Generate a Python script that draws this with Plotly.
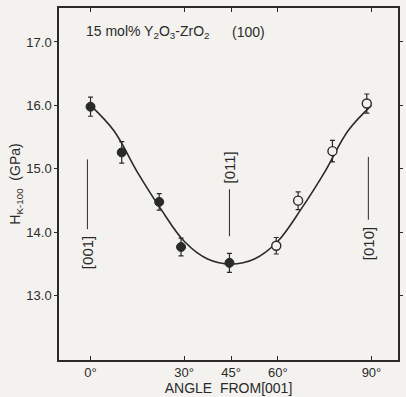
import plotly.graph_objects as go

# Measured points (filled: measured on one side, open: symmetric side)
filled_angle = [0, 10, 22, 29, 44.5]
filled_h = [15.98, 15.26, 14.48, 13.77, 13.52]
filled_err = [0.15, 0.17, 0.13, 0.14, 0.15]

open_angle = [59.5, 66.5, 77.5, 88.5]
open_h = [13.79, 14.50, 15.28, 16.03]
open_err = [0.13, 0.14, 0.17, 0.15]

# Fitted curve
curve_angle = [0, 7.5, 15, 22.5, 30, 37.5, 45, 52.5, 60, 67.5, 75, 82.5, 90]
curve_h = [16.0, 15.6, 14.95, 14.37, 13.86, 13.58, 13.5, 13.58, 13.86, 14.37, 14.95, 15.6, 16.0]

# Crystallographic direction markers
dir_labels = ["[001]", "[011]", "[010]"]
dir_angle = [-1, 44.5, 89]
dir_line_top = [15.15, 14.68, 15.19]
dir_line_bot = [14.05, 13.94, 14.2]
dir_label_y = [13.68, 15.03, 13.82]

x_tickvals = [0, 30, 45, 60, 90]
x_ticktext = ["0°", "30°", "45°", "60°", "90°"]
y_tickvals = [13, 14, 15, 16, 17]
y_ticktext = ["13.0", "14.0", "15.0", "16.0", "17.0"]

ink = "#2a2a2a"
bg = "#f3f2ef"
font = "Liberation Sans"

fig = go.Figure()

fig.add_trace(go.Scatter(x=curve_angle, y=curve_h, mode="lines",
                         line=dict(color=ink, width=1.6, shape="spline", smoothing=1.0),
                         hoverinfo="skip", showlegend=False))

fig.add_trace(go.Scatter(x=filled_angle, y=filled_h, mode="markers",
                         marker=dict(symbol="circle", size=9, color=ink,
                                     line=dict(color=ink, width=1)),
                         error_y=dict(type="data", array=filled_err, color=ink,
                                      thickness=1.2, width=2.5),
                         showlegend=False))

fig.add_trace(go.Scatter(x=open_angle, y=open_h, mode="markers",
                         marker=dict(symbol="circle", size=9, color=bg,
                                     line=dict(color=ink, width=1.4)),
                         error_y=dict(type="data", array=open_err, color=ink,
                                      thickness=1.2, width=2.5),
                         showlegend=False))

for a, t, b in zip(dir_angle, dir_line_top, dir_line_bot):
    fig.add_trace(go.Scatter(x=[a, a], y=[b, t], mode="lines",
                             line=dict(color=ink, width=1), hoverinfo="skip",
                             showlegend=False))

annotations = []
for lab, a, ly in zip(dir_labels, dir_angle, dir_label_y):
    annotations.append(dict(x=a, y=ly, xref="x", yref="y", text=lab, showarrow=False,
                            textangle=-90, font=dict(family=font, size=15, color=ink)))

annotations.append(dict(x=-2, y=17.16, xref="x", yref="y", xanchor="left",
                        text="15 mol% Y<sub>2</sub>O<sub>3</sub>-ZrO<sub>2</sub>",
                        showarrow=False, font=dict(family=font, size=14, color=ink)))
annotations.append(dict(x=50.5, y=17.16, xref="x", yref="y",
                        text="(100)", showarrow=False,
                        font=dict(family=font, size=14, color=ink)))

fig.update_layout(
    width=406, height=397,
    margin=dict(l=59, r=3, t=8, b=37),
    paper_bgcolor=bg, plot_bgcolor=bg,
    font=dict(family=font, size=13, color=ink),
    annotations=annotations,
    xaxis=dict(range=[-10.1, 98.5], tickvals=x_tickvals, ticktext=x_ticktext,
               showgrid=False, zeroline=False, showline=True, linecolor=ink,
               linewidth=1.5, mirror="ticks", ticks="inside", ticklen=4,
               tickcolor=ink, tickfont=dict(size=13),
               title=dict(text="ANGLE  FROM[001]", font=dict(size=14), standoff=0)),
    yaxis=dict(range=[11.99, 17.535], tickvals=y_tickvals, ticktext=y_ticktext,
               showgrid=False, zeroline=False, showline=True, linecolor=ink,
               linewidth=1.5, mirror="ticks", ticks="outside", ticklen=3,
               tickcolor=ink, tickfont=dict(size=13),
               title=dict(text="H<sub>K-100</sub>  (GPa)", font=dict(size=14), standoff=2)),
)

fig.write_html("out.html")
